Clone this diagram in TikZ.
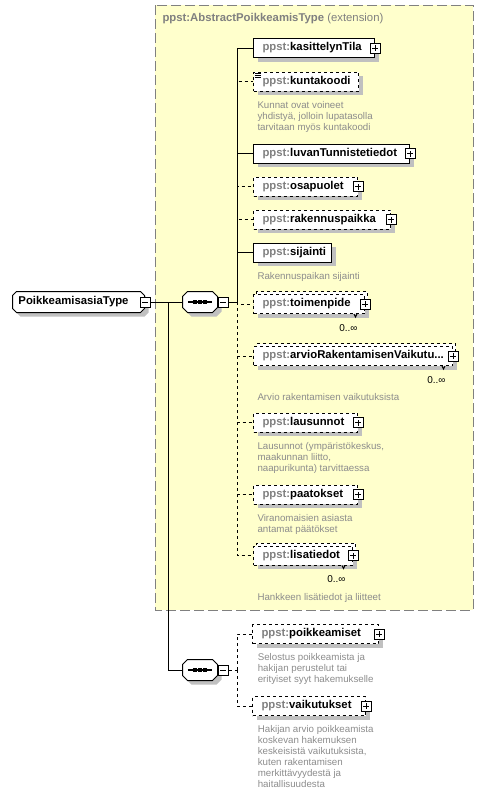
\documentclass[tikz,border=0pt]{standalone}
\usepackage{fontspec}
\setmainfont{Liberation Sans}
\usetikzlibrary{shapes.misc,shadows,positioning}
\definecolor{extfill}{RGB}{255,255,204}
\definecolor{extline}{RGB}{128,128,128}
\definecolor{prefixgray}{RGB}{128,128,128}
\definecolor{notegray}{RGB}{140,140,140}
\definecolor{shadowgray}{RGB}{192,192,192}
\newcommand{\pfx}[1]{\mbox{\textcolor{prefixgray}{ppst:}#1}}

\begin{document}
\begin{tikzpicture}[x=0.75pt, y=-0.75pt, line width=0.75pt,
    shade/.style={general shadow={fill=shadowgray, shadow xshift=3pt, shadow yshift=-3pt}},
    elem/.style={rectangle, draw, fill=white, shade, anchor=west, text width=#1, align=left,
      minimum height=14.25pt, inner xsep=6.75pt, inner ysep=0pt, font=\fontsize{8.5}{10}\selectfont\bfseries},
    opt/.style={dash pattern=on 2.25pt off 2.25pt},
    multi/.style={general shadow={fill=white, draw, dash pattern=on 2.25pt off 2.25pt, shadow xshift=2.25pt, shadow yshift=2.25pt}},
    expand/.style={rectangle, draw, solid, fill=white, minimum size=7.5pt, inner sep=0pt,
      path picture={\draw ([xshift=-2.25pt]path picture bounding box.center) -- ([xshift=2.25pt]path picture bounding box.center)
        ([yshift=-2.25pt]path picture bounding box.center) -- ([yshift=2.25pt]path picture bounding box.center);}},
    collapse/.style={rectangle, draw, solid, fill=white, minimum size=7.5pt, inner sep=0pt,
      path picture={\draw ([xshift=-2.25pt]path picture bounding box.center) -- ([xshift=2.25pt]path picture bounding box.center);}},
    docicon/.style={path picture={
      \fill[white] (path picture bounding box.north west) rectangle ++(5.25pt,-4.5pt);
      \foreach \k in {0.75,2.25,3.75}
        \draw[solid, line width=0.6pt] ([xshift=0.75pt, yshift=-\k pt]path picture bounding box.north west) -- ++(4.5pt,0);}},
    comp/.style={rectangle, minimum width=25.5pt, minimum height=15pt, inner sep=0pt},
    root/.style={chamfered rectangle, chamfered rectangle xsep=1.5pt, chamfered rectangle ysep=1.5pt,
      draw, fill=white, shade, anchor=west, text width=90pt, align=left, minimum height=15.75pt,
      inner xsep=3pt, inner ysep=0pt, font=\fontsize{8.5}{10}\selectfont\bfseries},
    note/.style={anchor=north west, inner sep=0pt, align=left, text=notegray, font=\fontsize{7.3}{8.25}\selectfont},
    count/.style={anchor=north east, inner sep=0pt, font=\fontsize{7.5}{9}\selectfont},
    notch/.style={to path={-- ++(-1.5,3) -- ++(-1.5,-3)}}]
  \useasboundingbox (0,0) rectangle (483,794);

  % extension
  \draw[extline, fill=extfill, dash pattern=on 7.5pt off 3pt] (155,5) rectangle (473,610);
  \node[anchor=west, inner sep=0pt, text=extline, font=\fontsize{8.5}{10}\selectfont] (exttitle) at (162,19)
    {\textbf{ppst:AbstractPoikkeamisType} (extension)};

  % root and compositors
  \node[root] (root) at (12,302) {PoikkeamisasiaType};
  \node[collapse] (root-m) at (root.east) {};
  \node[comp] (comp1) at (200,302) {};
  \node[comp] (comp2) at (200,670) {};
  \foreach \c in {comp1,comp2} {
    \draw[fill=white, shade] ([xshift=3.75pt]\c.north west) -- ([xshift=-3.75pt]\c.north east)
      -- ([yshift=-3.75pt]\c.north east) -- ([yshift=3.75pt]\c.south east)
      -- ([xshift=-3.75pt]\c.south east) -- ([xshift=3.75pt]\c.south west)
      -- ([yshift=3.75pt]\c.south west) -- ([yshift=-3.75pt]\c.north west) -- cycle;
    \draw[line width=1pt] ([xshift=4pt]\c.west) -- ([xshift=-4pt]\c.east);
    \foreach \d in {-3.6,0,3.6}
      \fill[black] ([xshift=\d pt]\c.center) +(-1.35pt,-1.35pt) rectangle +(1.35pt,1.35pt);
  }
  \node[collapse, anchor=west] (comp1-m) at (comp1.east) {};
  \node[collapse, anchor=west] (comp2-m) at (comp2.east) {};

  % elements
  \node[elem=77.25pt] (kasittelynTila) at (253,48) {\pfx{kasittelynTila}};
  \node[elem=65.25pt, opt, docicon] (kuntakoodi) at (253,81.5) {\pfx{kuntakoodi}};
  \node[note, below right=7pt and 3pt of kuntakoodi.south west] (kuntakoodi-doc)
    {Kunnat ovat voineet\\yhdistyä, jolloin lupatasolla\\tarvitaan myös kuntakoodi};
  \node[elem=103.5pt] (luvanTunnistetiedot) at (253,153.5) {\pfx{luvanTunnistetiedot}};
  \node[elem=64.5pt, opt] (osapuolet) at (253,186.5) {\pfx{osapuolet}};
  \node[elem=89.25pt, opt] (rakennuspaikka) at (253,219.5) {\pfx{rakennuspaikka}};
  \node[elem=45pt] (sijainti) at (253,252.5) {\pfx{sijainti}};
  \node[note, below right=7pt and 3pt of sijainti.south west] (sijainti-doc) {Rakennuspaikan sijainti};
  \node[multi, elem=69.75pt, opt] (toimenpide) at (253,304) {\pfx{toimenpide}};
  \node[count, below left=7.5pt and 5.25pt of toimenpide.south east] (toimenpide-n) {0..∞};
  \node[multi, elem=135.75pt, opt] (arvio) at (253,356) {\pfx{arvioRakentamisenVaikutu...}};
  \node[count, below left=7.5pt and 5.25pt of arvio.south east] (arvio-n) {0..∞};
  \node[note, below right=20.25pt and 3pt of arvio.south west] (arvio-doc) {Arvio rakentamisen vaikutuksista};
  \node[elem=64.5pt, opt] (lausunnot) at (253,422.5) {\pfx{lausunnot}};
  \node[note, below right=7pt and 3pt of lausunnot.south west] (lausunnot-doc)
    {Lausunnot (ympäristökeskus,\\maakunnan liitto,\\naapurikunta) tarvittaessa};
  \node[elem=64.5pt, opt] (paatokset) at (253,494.5) {\pfx{paatokset}};
  \node[note, below right=7pt and 3pt of paatokset.south west] (paatokset-doc)
    {Viranomaisien asiasta\\antamat päätökset};
  \node[multi, elem=60.75pt, opt] (lisatiedot) at (253,555.5) {\pfx{lisatiedot}};
  \node[count, below left=7.5pt and 5.25pt of lisatiedot.south east] (lisatiedot-n) {0..∞};
  \node[note, below right=20.25pt and 3pt of lisatiedot.south west] (lisatiedot-doc)
    {Hankkeen lisätiedot ja liitteet};

  \node[elem=81pt, opt] (poikkeamiset) at (252,634) {\pfx{poikkeamiset}};
  \node[note, below right=7pt and 4pt of poikkeamiset.south west] (poikkeamiset-doc)
    {Selostus poikkeamista ja\\hakijan perustelut tai\\erityiset syyt hakemukselle};
  \node[elem=71.25pt, opt] (vaikutukset) at (252,706) {\pfx{vaikutukset}};
  \node[note, below right=7pt and 4pt of vaikutukset.south west] (vaikutukset-doc)
    {Hakijan arvio poikkeamista\\koskevan hakemuksen\\keskeisistä vaikutuksista,\\kuten rakentamisen\\merkittävyydestä ja\\haitallisuudesta};

  % expand boxes
  \foreach \n in {kasittelynTila,luvanTunnistetiedot,osapuolet,rakennuspaikka,toimenpide,arvio,
                  lausunnot,paatokset,lisatiedot,poikkeamiset,vaikutukset}
    \node[expand] (\n-p) at (\n.east) {};
  \foreach \n in {toimenpide,arvio,lisatiedot}
    \draw ([xshift=-6pt]\n.south east) to[notch] ();

  % connectors
  \coordinate (fork) at (168,302);
  \coordinate (bus) at (237,302);
  \coordinate (bus2) at (237,670);
  \draw (root-m.east) -- (comp1.west);
  \draw (fork) |- (comp2.west);
  \draw (comp1-m.east) -- (bus);
  \foreach \n in {kuntakoodi,osapuolet,rakennuspaikka,toimenpide,arvio,lausunnot,paatokset,lisatiedot}
    \draw[opt] (bus) |- (\n.west);
  \foreach \n in {kasittelynTila,luvanTunnistetiedot,sijainti}
    \draw (bus) |- (\n.west);
  \draw[opt] (comp2-m.east) -- (bus2);
  \foreach \n in {poikkeamiset,vaikutukset}
    \draw[opt] (bus2) |- (\n.west);
\end{tikzpicture}
\end{document}
